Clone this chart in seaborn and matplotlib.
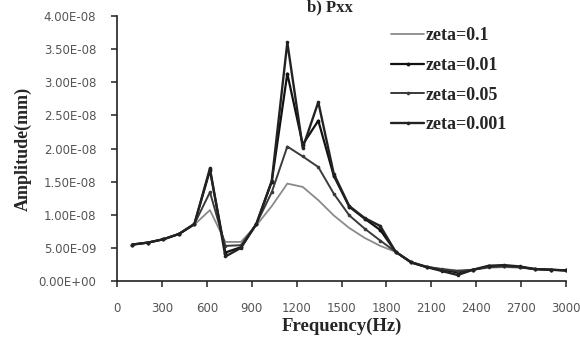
import matplotlib
matplotlib.use("Agg")
import matplotlib.pyplot as plt
import seaborn as sns
import pandas as pd
from matplotlib.ticker import FuncFormatter, MultipleLocator

# ---- data (amplitudes in units of 1e-9 mm) ----
freq = [103, 207, 310, 414, 517, 621, 724, 828, 931, 1034, 1138, 1241, 1345, 1448,
        1552, 1655, 1759, 1862, 1966, 2069, 2172, 2276, 2379, 2483, 2586, 2690,
        2793, 2897, 3000]
zeta_01 = [5.5, 5.8, 6.3, 7.1, 8.5, 10.7, 5.9, 5.9, 8.4, 11.3, 14.7, 14.2, 12.2, 9.9,
           8.0, 6.5, 5.3, 4.4, 2.9, 2.2, 1.8, 1.6, 1.7, 2.0, 2.1, 2.0, 1.8, 1.7, 1.6]
zeta_001 = [5.5, 5.8, 6.3, 7.1, 8.6, 16.7, 4.3, 5.1, 8.6, 15.0, 31.3, 20.6, 24.2, 15.9,
            11.2, 9.4, 7.7, 4.4, 2.8, 2.1, 1.7, 1.3, 1.7, 2.2, 2.3, 2.1, 1.8, 1.7, 1.6]
zeta_005 = [5.5, 5.8, 6.3, 7.1, 8.6, 13.4, 5.3, 5.4, 8.6, 13.4, 20.3, 18.8, 17.2, 13.2,
            9.9, 7.9, 6.1, 4.4, 2.8, 2.1, 1.8, 1.5, 1.7, 2.1, 2.2, 2.1, 1.8, 1.7, 1.6]
zeta_0001 = [5.5, 5.8, 6.3, 7.1, 8.6, 17.0, 3.7, 5.0, 8.6, 15.1, 36.0, 20.1, 27.0, 16.2,
             11.3, 9.5, 8.3, 4.4, 2.8, 2.1, 1.5, 0.9, 1.7, 2.3, 2.4, 2.2, 1.8, 1.7, 1.6]
labels = ["zeta=0.1", "zeta=0.01", "zeta=0.05", "zeta=0.001"]
x_ticks = list(range(0, 3001, 300))
title = "b) Pxx"

series = [zeta_01, zeta_001, zeta_005, zeta_0001]
frames = []
for lab, vals in zip(labels, series):
    frames.append(pd.DataFrame({"Frequency": freq,
                                "Amplitude": [v * 1e-9 for v in vals],
                                "zeta": lab}))
df = pd.concat(frames, ignore_index=True)

sns.set_style("white")
plt.rcParams["font.family"] = ["DejaVu Sans"]

fig = plt.figure(figsize=(5.8, 3.42), dpi=100)
ax = fig.add_axes([117 / 580, 1 - 281 / 342, 449 / 580, 265 / 342])

styles = {
    "zeta=0.1": dict(color="#8a8a8a", lw=1.3, marker=None, ms=0),
    "zeta=0.01": dict(color="#111111", lw=1.6, marker="o", ms=2.8),
    "zeta=0.05": dict(color="#3a3a3a", lw=1.4, marker="o", ms=2.6),
    "zeta=0.001": dict(color="#222222", lw=1.7, marker="o", ms=2.6),
}
for lab in labels:
    st = styles[lab]
    sub = df[df["zeta"] == lab]
    sns.lineplot(data=sub, x="Frequency", y="Amplitude", ax=ax, color=st["color"],
                 linewidth=st["lw"], marker=st["marker"], markersize=st["ms"],
                 markeredgewidth=0, label=lab, legend=False)

ax.set_xlim(0, 3000)
ax.set_ylim(0, 4e-8)
ax.set_xticks(x_ticks)
ax.set_xticklabels([str(t) for t in x_ticks])
ax.yaxis.set_major_locator(MultipleLocator(5e-9))
ax.yaxis.set_major_formatter(FuncFormatter(lambda v, p: f"{v:.2E}"))

for s in ["top", "right"]:
    ax.spines[s].set_visible(False)
for s in ["left", "bottom"]:
    ax.spines[s].set_color("#222222")
    ax.spines[s].set_linewidth(1.2)

ax.tick_params(axis="both", direction="out", length=4, width=1.1, color="#222222",
               labelsize=8.5, labelcolor="#555555", left=True, bottom=True)
ax.tick_params(axis="y", pad=11)
ax.tick_params(axis="x", pad=11)

serif = ["Liberation Serif", "DejaVu Serif"]
ax.set_xlabel("Frequency(Hz)", fontsize=13.5, fontweight="bold", family=serif, labelpad=2)
ax.set_ylabel("Amplitude(mm)", fontsize=13, fontweight="bold", family=serif, labelpad=5)

handles, labs = ax.get_legend_handles_labels()
leg = ax.legend(handles, labs, loc="upper left", bbox_to_anchor=(0.575, 1.018),
                frameon=False, handlelength=1.8, handletextpad=0.1,
                labelspacing=0.7, prop={"family": serif, "weight": "bold", "size": 13})

fig.text(330 / 580, 1 - 11 / 342, title, ha="center", va="baseline",
         fontsize=12, fontweight="bold", family=serif)

fig.savefig("out.png", dpi=100)
